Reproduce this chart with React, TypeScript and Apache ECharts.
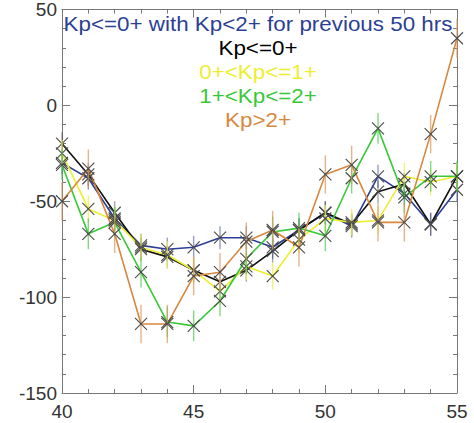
import React, { useEffect, useRef } from "react";
import * as echarts from "echarts";

const xValues = [40, 41, 42, 43, 44, 45, 46, 47, 48, 49, 50, 51, 52, 53, 54, 55];
const blueVals = [-30, -38, -59, -73, -75, -74, -69, -69, -74, -65, -56, -63, -37, -46, -62, -44];
const blackVals = [-20, -36, -56, -75, -79, -86, -92, -86, -76, -65, -56, -62, -45, -41, -62, -37];
const yellowVals = [-25, -54, -60, -74, -78, -86, -97, -84, -89, -70, -59, -61, -60, -37, -40, -37];
const greenVals = [-31, -67, -61, -87, -113, -115, -102, -80, -66, -64, -68, -38, -12, -48, -37, -37];
const orangeVals = [-50, -33, -67, -114, -114, -89, -87, -71, -65, -74, -36, -31, -61, -61, -15, 35];
const errSizes = [6, 6, 7, 8, 10];

const labels = [
  "Kp<=0+ with Kp<2+ for previous 50 hrs",
  "Kp<=0+",
  "0+<Kp<=1+",
  "1+<Kp<=2+",
  "Kp>2+",
];
const colors = ["#2c3f94", "#111111", "#eeee30", "#38c838", "#d8883e"];
const barColors = [
  "rgba(60,80,150,0.55)",
  "rgba(60,60,60,0.45)",
  "rgba(238,238,80,0.8)",
  "rgba(80,200,80,0.7)",
  "rgba(216,150,90,0.7)",
];
const allSeries = [blueVals, blackVals, yellowVals, greenVals, orangeVals];

const FONT = "Liberation Sans";

export default function App() {
  const ref = useRef<HTMLDivElement>(null);
  useEffect(() => {
    if (!ref.current) return;
    const chart = echarts.init(ref.current, null, { renderer: "svg" });

    const axisCommon = {
      type: "value",
      axisLine: { show: true, onZero: false, lineStyle: { color: "#777", width: 1 } },
      axisTick: { show: true, inside: true, length: 8, lineStyle: { color: "#777" } },
      minorTick: { show: true, splitNumber: 5, length: 4, lineStyle: { color: "#777" } },
      splitLine: { show: false },
      minorSplitLine: { show: false },
    };

    const lineSeries = allSeries.map((vals, i) => ({
      type: "line",
      name: labels[i],
      data: xValues.map((x, k) => [x, vals[k]]),
      showSymbol: false,
      symbol: "none",
      lineStyle: { color: colors[i], width: 1.6 },
      z: 2,
    }));

    const markerSeries = allSeries.map((vals, i) => ({
      type: "custom",
      name: labels[i] + " err",
      data: xValues.map((x, k) => [x, vals[k], errSizes[i]]),
      z: 3,
      renderItem: (params: any, api: any) => {
        const x = api.value(0);
        const y = api.value(1);
        const e = api.value(2);
        const p = api.coord([x, y]);
        const t = api.coord([x, y + e]);
        const b = api.coord([x, y - e]);
        const s = 6;
        return {
          type: "group",
          children: [
            {
              type: "line",
              shape: { x1: p[0], y1: t[1], x2: p[0], y2: b[1] },
              style: { stroke: barColors[i], lineWidth: 1.4 },
            },
            {
              type: "line",
              shape: { x1: p[0] - s, y1: p[1] - s, x2: p[0] + s, y2: p[1] + s },
              style: { stroke: "#4a4a4a", lineWidth: 1.1 },
            },
            {
              type: "line",
              shape: { x1: p[0] - s, y1: p[1] + s, x2: p[0] + s, y2: p[1] - s },
              style: { stroke: "#4a4a4a", lineWidth: 1.1 },
            },
          ],
        };
      },
    }));

    const textYs = [24, 48, 72, 96, 120];
    const graphicTexts = labels.map((t, i) => ({
      type: "text",
      x: 258,
      y: textYs[i],
      scaleX: 1.12,
      z: 10,
      style: {
        text: t,
        fill: colors[i] === "#111111" ? "#000" : colors[i],
        font: `20px "${FONT}"`,
        textAlign: "center",
        textVerticalAlign: "middle",
      },
    }));

    chart.setOption({
      animation: false,
      backgroundColor: "#fff",
      grid: { left: 62, top: 6, width: 395, height: 387, containLabel: false },
      xAxis: [
        {
          ...axisCommon,
          min: 40,
          max: 55,
          interval: 5,
          position: "bottom",
          axisLabel: { fontSize: 19, color: "#333", margin: 9, fontFamily: FONT },
        },
        {
          ...axisCommon,
          min: 40,
          max: 55,
          interval: 5,
          position: "top",
          axisLabel: { show: false },
        },
      ],
      yAxis: [
        {
          ...axisCommon,
          min: -150,
          max: 50,
          interval: 50,
          position: "left",
          axisLabel: { fontSize: 19, color: "#333", margin: 5, fontFamily: FONT },
        },
        {
          ...axisCommon,
          min: -150,
          max: 50,
          interval: 50,
          position: "right",
          axisLabel: { show: false },
        },
      ],
      series: [...lineSeries, ...markerSeries],
      graphic: graphicTexts,
    });

    return () => chart.dispose();
  }, []);

  return (
    <div
      ref={ref}
      style={{ position: "fixed", left: 0, top: 0, width: 474, height: 423, background: "#fff" }}
    />
  );
}
